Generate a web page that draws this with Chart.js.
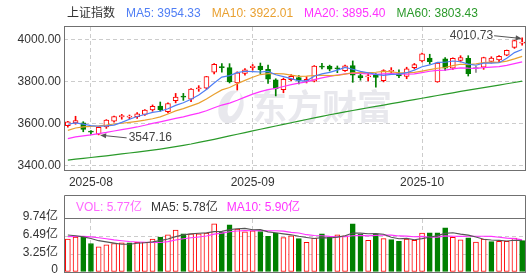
<!DOCTYPE html>
<html><head><meta charset="utf-8">
<script src="https://cdn.jsdelivr.net/npm/chart.js@4/dist/chart.umd.min.js"></script>
<style>
html,body{margin:0;padding:0;background:#fff;width:529px;height:273px;overflow:hidden}
#main{position:absolute;left:0;top:0}
#vol{position:absolute;left:0;top:190px}
</style></head><body>
<canvas id="main" width="529" height="190" style="width:529px;height:190px"></canvas>
<canvas id="vol" width="529" height="83" style="width:529px;height:83px"></canvas>
<script>
// ---------- data ----------
const dates = ['2025-07-29','2025-07-30','2025-07-31','2025-08-01','2025-08-04','2025-08-05','2025-08-06','2025-08-07','2025-08-08','2025-08-11','2025-08-12','2025-08-13','2025-08-14','2025-08-15','2025-08-18','2025-08-19','2025-08-20','2025-08-21','2025-08-22','2025-08-25','2025-08-26','2025-08-27','2025-08-28','2025-08-29','2025-09-01','2025-09-02','2025-09-03','2025-09-04','2025-09-05','2025-09-08','2025-09-09','2025-09-10','2025-09-11','2025-09-12','2025-09-15','2025-09-16','2025-09-17','2025-09-18','2025-09-19','2025-09-22','2025-09-23','2025-09-24','2025-09-25','2025-09-26','2025-09-29','2025-09-30','2025-10-09','2025-10-10','2025-10-13','2025-10-14','2025-10-15','2025-10-16','2025-10-17','2025-10-20','2025-10-21','2025-10-22','2025-10-23','2025-10-24','2025-10-27','2025-10-28'];
const open  = [3591,3604,3605,3565,3550,3585,3612,3633,3632,3634,3645,3666,3684,3658,3710,3731,3718,3766,3770,3846,3872,3868,3795,3840,3868,3876,3860,3810,3763,3811,3820,3803,3803,3876,3876,3866,3853,3878,3830,3824,3832,3806,3850,3840,3826,3868,3900,3914,3800,3910,3866,3902,3912,3863.89,3870,3898,3905,3928,3965,3985];
const high  = [3612,3636,3610,3568,3585,3620,3637,3645,3642,3654,3668,3690,3704,3700,3745,3745,3768,3782,3826,3888,3887,3887,3848,3863,3883,3890,3880,3815,3818,3835,3830,3825,3878,3889,3880,3876,3880,3899.96,3841,3841,3840,3858,3868,3858,3870,3888,3937,3932,3893,3916,3915,3925,3925,3875,3918,3920,3926,3952,3999,4010.73];
const low   = [3584,3598,3562,3551,3547.16,3578,3608,3622,3623,3626,3640,3660,3660,3652,3700,3712,3706,3755,3765,3838,3846,3795,3761,3832,3856,3840,3793,3733,3748,3806,3790,3795,3800,3862,3852,3844,3850,3798,3808,3805,3775,3800,3838,3820,3815,3862,3895,3885,3798,3855,3860,3895,3828,3845,3860,3890,3895,3925,3960,3975];
const close = [3609.71,3615.72,3573.21,3559.95,3583.31,3617.60,3633.99,3639.67,3635.13,3647.55,3665.92,3683.46,3666.44,3696.77,3728.03,3727.29,3766.21,3771.10,3825.76,3883.56,3868.38,3800.35,3843.60,3857.93,3875.53,3858.13,3813.56,3765.88,3812.51,3826.84,3807.29,3812.22,3875.31,3870.60,3860.50,3861.87,3876.34,3831.66,3820.09,3828.58,3821.83,3853.64,3853.30,3828.11,3862.53,3882.78,3933.97,3897.03,3889.50,3865.23,3912.21,3916.23,3839.76,3863.89,3916.33,3913.76,3922.41,3950.31,3996.94,3988.22];
const prevClose = 3597.94;
const ma5  = [3597.87,3604.55,3598.05,3591.31,3588.38,3589.96,3593.61,3606.90,3621.94,3634.79,3644.45,3654.35,3659.70,3672.03,3688.12,3700.40,3716.95,3737.88,3763.68,3794.78,3823.00,3829.83,3844.33,3850.76,3849.16,3847.11,3849.75,3834.21,3825.12,3815.38,3805.22,3804.95,3826.83,3838.45,3845.18,3856.10,3868.92,3860.19,3850.09,3843.71,3835.70,3831.16,3835.49,3837.09,3843.88,3856.07,3872.14,3880.88,3893.16,3893.70,3899.59,3896.04,3884.59,3879.46,3889.68,3889.99,3891.23,3913.34,3939.95,3954.33];
const ma10 = [3568.61,3579.80,3585.44,3587.99,3590.34,3593.91,3599.08,3602.48,3606.62,3611.58,3617.21,3623.98,3633.30,3646.98,3661.46,3672.43,3685.65,3698.79,3717.85,3741.45,3761.70,3773.39,3791.11,3807.22,3821.97,3835.06,3839.79,3839.27,3837.94,3832.27,3826.16,3827.35,3830.52,3831.79,3830.28,3830.66,3836.94,3843.51,3844.27,3844.45,3845.90,3850.04,3847.84,3843.59,3843.80,3845.89,3851.65,3858.19,3865.13,3868.79,3877.83,3884.09,3882.74,3886.31,3891.69,3894.79,3893.64,3898.96,3909.71,3922.01];
const ma20 = [3529.13,3537.18,3542.78,3547.16,3552.67,3558.68,3565.73,3572.23,3578.48,3584.88,3592.91,3601.89,3609.37,3617.49,3625.90,3633.17,3642.36,3650.63,3662.24,3676.52,3689.45,3698.68,3712.20,3727.10,3741.71,3753.74,3762.72,3769.03,3777.90,3786.86,3793.93,3800.37,3810.81,3819.50,3826.13,3832.86,3838.36,3841.39,3841.11,3838.36,3836.03,3838.70,3839.18,3837.69,3837.04,3838.27,3844.29,3850.85,3854.70,3856.62,3861.87,3867.07,3865.29,3864.95,3867.74,3870.34,3872.64,3878.57,3887.42,3895.40];
const ma60 = [3427,3431,3435,3439,3443,3447,3451.5,3456,3460.5,3465,3469.5,3474.5,3479.5,3485,3491,3497,3503.5,3511,3518.5,3526,3534,3542,3550,3558,3566,3574,3582,3589.5,3597,3605,3613,3620.5,3628,3635.5,3643,3650,3657,3663.5,3670,3676.5,3683,3689.5,3696,3702.5,3709,3715.5,3722,3728.5,3735,3741.5,3748,3754.5,3761,3767,3773,3779,3785,3791,3797,3803.43];
const volume = [6.07,6.43,6.43,5.23,4.63,4.99,5.23,5.35,5.35,5.47,5.47,6.07,6.43,6.85,7.70,7.03,7.03,7.03,7.15,8.84,7.27,8.66,7.88,7.39,7.58,7.45,6.55,7.15,6.31,6.67,6.13,5.47,6.25,7.03,6.43,6.85,6.67,8.84,6.91,5.83,7.03,6.13,5.95,5.65,6.07,5.83,7.15,7.21,7.21,8.12,6.35,5.90,6.30,5.50,6.05,5.59,5.65,5.65,6.24,5.77];
const volMa5  = [6.80,6.65,6.45,6.15,5.76,5.54,5.30,5.09,5.11,5.28,5.37,5.54,5.76,6.06,6.50,6.82,7.01,7.13,7.19,7.42,7.46,7.79,7.96,8.01,7.76,7.79,7.37,7.22,7.01,6.83,6.56,6.35,6.17,6.31,6.26,6.41,6.65,7.16,7.14,7.02,7.06,6.95,6.37,6.12,6.17,5.93,6.13,6.38,6.69,7.10,7.21,6.96,6.78,6.43,6.02,5.87,5.82,5.69,5.84,5.78];
const volMa10 = [6.50,6.55,6.55,6.45,6.30,6.10,5.90,5.75,5.60,5.52,5.46,5.42,5.42,5.58,5.89,6.10,6.28,6.44,6.62,6.96,7.14,7.40,7.54,7.60,7.59,7.63,7.58,7.59,7.51,7.29,7.18,6.86,6.70,6.66,6.54,6.48,6.50,6.67,6.73,6.64,6.73,6.80,6.77,6.63,6.59,6.49,6.54,6.38,6.41,6.64,6.57,6.54,6.58,6.56,6.56,6.54,6.39,6.23,6.14,5.90];
const priceTicks = [3400, 3600, 3800, 4000];
const volTicks = [0, 3.2467, 6.4933, 9.74];
const title = '上证指数';

// ---------- styles ----------
const FONT = '"Liberation Sans", Arial, "Noto Sans CJK SC", sans-serif';
const RED = '#ff0000', GREEN = '#008000', GRAY = '#888888';
const C_MA5 = '#4f7ef5', C_MA10 = '#e9a030', C_MA20 = '#ff33ff', C_MA60 = '#2a9a2a';
const GRID = '#cccccc', FRAME = '#707070';
Chart.defaults.font.family = FONT;
Chart.defaults.font.size = 12;
Chart.defaults.color = '#333';
Chart.defaults.animation = false;

const monthLabel = i => (i > 0 && dates[i].slice(0,7) !== dates[i-1].slice(0,7)) ? dates[i].slice(0,7) : '';
const dir = i => close[i] > open[i] ? 1 : (close[i] < open[i] ? -1 : 0);
const bodyFill = close.map((c,i) => dir(i) > 0 ? '#ffffff' : (dir(i) < 0 ? GREEN : GRAY));
const bodyLine = close.map((c,i) => dir(i) > 0 ? RED : (dir(i) < 0 ? GREEN : GRAY));
const volUp = close.map((c,i) => c >= (i ? close[i-1] : prevClose));

function drawText(ctx, parts, x, y, gap) {
  ctx.save();
  ctx.font = '12px ' + FONT;
  ctx.textBaseline = 'middle';
  ctx.textAlign = 'left';
  for (const [t, col] of parts) { ctx.fillStyle = col; ctx.fillText(t, x, y); x += ctx.measureText(t).width + gap; }
  ctx.restore();
}
function arrow(ctx, x1, y1, x2, y2) {
  const a = Math.atan2(y2 - y1, x2 - x1), L = 6, W = 2.6;
  ctx.beginPath(); ctx.moveTo(x1, y1); ctx.lineTo(x2 - Math.cos(a)*L*0.8, y2 - Math.sin(a)*L*0.8); ctx.stroke();
  ctx.beginPath(); ctx.moveTo(x2, y2);
  ctx.lineTo(x2 - Math.cos(a)*L + Math.sin(a)*W, y2 - Math.sin(a)*L - Math.cos(a)*W);
  ctx.lineTo(x2 - Math.cos(a)*L - Math.sin(a)*W, y2 - Math.sin(a)*L + Math.cos(a)*W);
  ctx.closePath(); ctx.fill();
}

const mainPlugin = {
  id: 'mainDeco',
  beforeDatasetsDraw(chart) {
    const ctx = chart.ctx;
    ctx.save();
    ctx.fillStyle = 'rgba(214,214,222,0.55)';
    // logo
    ctx.beginPath(); ctx.ellipse(231, 107, 12, 17, 0.35, 0, Math.PI*2); ctx.fill();
    ctx.fillStyle = '#ffffff';
    ctx.beginPath(); ctx.ellipse(234, 104, 5, 13, 0.35, 0, Math.PI*2); ctx.fill();
    ctx.fillStyle = 'rgba(214,214,222,0.55)';
    ctx.font = 'bold 35px "Noto Sans CJK SC", sans-serif';
    ctx.textBaseline = 'middle'; ctx.textAlign = 'left';
    ctx.fillText('东方财富', 252, 107);
    ctx.restore();
  },
  afterDatasetsDraw(chart) {
    const {ctx} = chart, xs = chart.scales.x, ys = chart.scales.y;
    let hi = 0, lo = 0;
    high.forEach((v,i) => { if (v > high[hi]) hi = i; });
    low.forEach((v,i) => { if (v < low[lo]) lo = i; });
    ctx.save();
    ctx.font = '12px ' + FONT; ctx.fillStyle = '#444'; ctx.strokeStyle = '#555'; ctx.lineWidth = 1;
    const hx = xs.getPixelForValue(hi), hy = ys.getPixelForValue(high[hi]);
    ctx.textBaseline = 'middle'; ctx.textAlign = 'right';
    ctx.fillText(high[hi].toFixed(2), hx - 29, hy - 2.3);
    ctx.fillStyle = '#555';
    arrow(ctx, hx - 28, hy - 2, hx - 0.5, hy + 0.8);
    const lx = xs.getPixelForValue(lo), ly = ys.getPixelForValue(low[lo]);
    ctx.fillStyle = '#444'; ctx.textAlign = 'left';
    ctx.fillText(low[lo].toFixed(2), lx + 30, ly + 3);
    ctx.fillStyle = '#555';
    arrow(ctx, lx + 28, ly + 3, lx + 1.5, ly + 0.3);
    ctx.restore();
  },
  afterDraw(chart) {
    const {ctx, chartArea: a} = chart;
    ctx.save(); ctx.strokeStyle = FRAME; ctx.lineWidth = 1;
    ctx.strokeRect(Math.round(a.left) + 0.5, Math.round(a.top) - 0.5, Math.round(a.right) - Math.round(a.left) - 1, Math.round(a.bottom) - Math.round(a.top));
    ctx.restore();
    const n = ma5.length - 1;
    drawText(ctx, [[title,'#333'],['MA5: ' + ma5[n].toFixed(2), C_MA5],['MA10: ' + ma10[n].toFixed(2), C_MA10],['MA20: ' + ma20[n].toFixed(2), C_MA20],['MA60: ' + ma60[n].toFixed(2), C_MA60]], 67, 13.5, 11);
  }
};

const lineDs = (label, data, color) => ({type:'line', label, data, borderColor: color, borderWidth: 1.2, pointRadius: 0, tension: 0, fill: false, order: 0});

new Chart(document.getElementById('main'), {
  type: 'bar',
  data: {
    labels: dates,
    datasets: [
      lineDs('MA5', ma5, C_MA5),
      lineDs('MA10', ma10, C_MA10),
      lineDs('MA20', ma20, C_MA20),
      lineDs('MA60', ma60, C_MA60),
      {type:'bar', label:'body', data: open.map((o,i) => [o, close[i]]), backgroundColor: bodyFill, borderColor: bodyLine, borderWidth: 1, borderSkipped: false, barThickness: 5, minBarLength: 1, grouped: false, order: 1},
      {type:'bar', label:'wick', data: low.map((l,i) => [l, high[i]]), backgroundColor: bodyLine, borderWidth: 0, barThickness: 1, grouped: false, order: 2}
    ]
  },
  options: {
    responsive: false, events: [],
    layout: {padding: {left: 0, right: 3, top: 27, bottom: 0}},
    plugins: {legend: {display: false}, tooltip: {enabled: false}},
    scales: {
      x: {
        offset: true,
        grid: {offset: false, drawTicks: false, lineWidth: 1, color: c => monthLabel(c.index) ? GRID : 'rgba(0,0,0,0)'},
        border: {display: false, dash: [4, 3]},
        ticks: {autoSkip: false, maxRotation: 0, minRotation: 0, padding: 4, color: '#333', font: {size: 12}, callback: (v, i) => monthLabel(i)},
        afterFit: s => { s.height = 19; s.paddingLeft = 0; s.paddingRight = 0; }
      },
      y: {
        min: 3374.7, max: 4062,
        grid: {drawTicks: false, color: GRID, lineWidth: 1},
        border: {display: false, dash: [4, 3]},
        afterBuildTicks: s => { s.ticks = priceTicks.map(v => ({value: v})); },
        ticks: {padding: 3, color: '#333', font: {size: 12}, callback: v => Number(v).toFixed(2)},
        afterFit: s => { s.width = 64; s.paddingTop = 0; s.paddingBottom = 0; }
      }
    }
  },
  plugins: [mainPlugin]
});

const volPlugin = {
  id: 'volDeco',
  afterDraw(chart) {
    const {ctx, chartArea: a} = chart;
    const L = Math.round(a.left) + 0.5, R = Math.round(a.right) - 0.5;
    ctx.save(); ctx.strokeStyle = FRAME; ctx.lineWidth = 1;
    ctx.beginPath();
    ctx.moveTo(L, chart.height + 2); ctx.lineTo(L, 5.5); ctx.lineTo(R, 5.5); ctx.lineTo(R, chart.height + 2);
    ctx.moveTo(L, Math.round(a.top) - 0.5); ctx.lineTo(R, Math.round(a.top) - 0.5);
    ctx.moveTo(L, Math.round(a.bottom) + 0.5); ctx.lineTo(R, Math.round(a.bottom) + 0.5);
    ctx.stroke(); ctx.restore();
    const n = volume.length - 1;
    drawText(ctx, [['VOL: ' + volume[n].toFixed(2) + '亿', '#ff66ff'], ['MA5: ' + volMa5[n].toFixed(2) + '亿', '#333'], ['MA10: ' + volMa10[n].toFixed(2) + '亿', '#ff33ff']], 76, 18, 9);
  }
};

new Chart(document.getElementById('vol'), {
  type: 'bar',
  data: {
    labels: dates,
    datasets: [
      {type:'line', label:'MA5', data: volMa5, borderColor: '#555555', borderWidth: 1.1, pointRadius: 0, tension: 0, fill: false, order: 0},
      {type:'line', label:'MA10', data: volMa10, borderColor: '#ff33ff', borderWidth: 1.1, pointRadius: 0, tension: 0, fill: false, order: 0},
      {type:'bar', label:'VOL', data: volume, backgroundColor: volUp.map(u => u ? '#ffffff' : GREEN), borderColor: volUp.map(u => u ? RED : GREEN), borderWidth: 1, borderSkipped: false, barThickness: 5, grouped: false, order: 1}
    ]
  },
  options: {
    responsive: false, events: [],
    layout: {padding: {left: 0, right: 3, top: 29, bottom: 1}},
    plugins: {legend: {display: false}, tooltip: {enabled: false}},
    scales: {
      x: {
        offset: true,
        grid: {offset: false, drawTicks: false, lineWidth: 1, color: c => monthLabel(c.index) ? GRID : 'rgba(0,0,0,0)'},
        border: {display: false, dash: [4, 3]},
        ticks: {display: false, autoSkip: false},
        afterFit: s => { s.height = 0; s.paddingLeft = 0; s.paddingRight = 0; }
      },
      y: {
        min: 0, max: 9.74,
        grid: {drawTicks: false, lineWidth: 1, color: c => (c.index === 0 || c.index === volTicks.length - 1) ? 'rgba(0,0,0,0)' : GRID},
        border: {display: false, dash: [4, 3]},
        afterBuildTicks: s => { s.ticks = volTicks.map(v => ({value: v})); },
        ticks: {padding: 6, labelOffset: -2, color: '#333', font: {size: 12}, callback: v => v === 0 ? '0' : Number(v).toFixed(2) + '亿'},
        afterFit: s => { s.width = 64; s.paddingTop = 0; s.paddingBottom = 0; }
      }
    }
  },
  plugins: [volPlugin]
});
</script>
</body></html>
